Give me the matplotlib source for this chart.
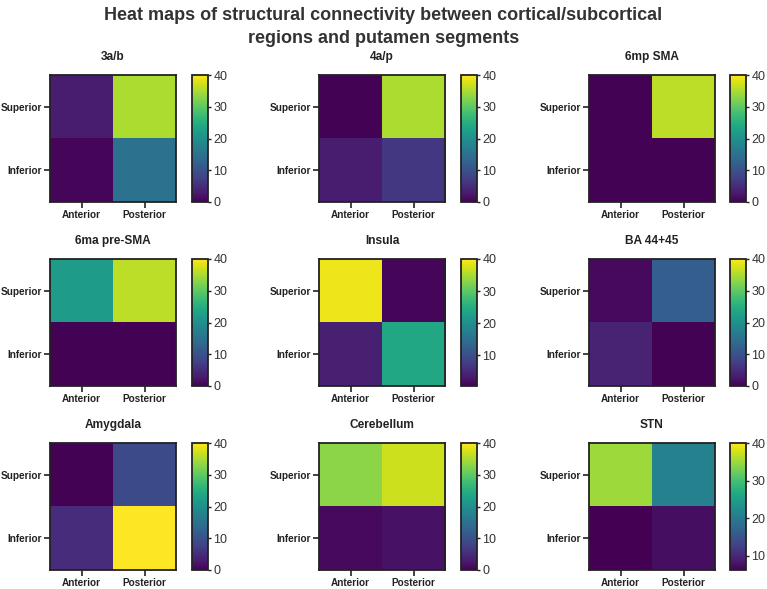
import numpy as np
import matplotlib
matplotlib.use("Agg")
import matplotlib.pyplot as plt
from matplotlib.colors import Normalize

plt.rcParams['font.family'] = ['Liberation Sans', 'DejaVu Sans']

title = "Heat maps of structural connectivity between cortical/subcortical\nregions and putamen segments"
regions = ["3a/b", "4a/p", "6mp SMA", "6ma pre-SMA", "Insula", "BA 44+45",
           "Amygdala", "Cerebellum", "STN"]
rows = ["Superior", "Inferior"]
cols = ["Anterior", "Posterior"]

# values: [[Superior-Anterior, Superior-Posterior], [Inferior-Anterior, Inferior-Posterior]]
v_3ab = [[3, 35], [0.5, 15]]
v_4ap = [[0.3, 35], [3, 6.5]]
v_6mp = [[0.3, 36], [0.3, 0.3]]
v_6ma = [[22, 36], [0.3, 0.3]]
v_insula = [[39, 1], [4, 24]]
v_ba = [[1, 12], [4, 0.3]]
v_amyg = [[0.3, 9], [5, 40]]
v_cereb = [[33, 37], [1, 2]]
v_stn = [[35, 21], [6.3, 7.5]]
values = [v_3ab, v_4ap, v_6mp, v_6ma, v_insula, v_ba, v_amyg, v_cereb, v_stn]

cbar_min = [0, 0, 0, 0, 0.5, 0, 0, 0, 6.2]
cbar_max = [40, 40, 40, 40, 40, 40, 40, 40, 40]
cbar_ticks = [[0, 10, 20, 30, 40]] * 4 + [[10, 20, 30, 40]] + [[0, 10, 20, 30, 40]] * 3 + [[10, 20, 30, 40]]

W, H = 767, 589
fig = plt.figure(figsize=(W / 100, H / 100), dpi=100)
fig.text(0.5, 1 - 27 / H, title, ha='center', va='center', fontsize=13,
         fontweight='bold', color='#333333', linespacing=1.4)

hm_x = [50, 319, 589]
cb_x = [192, 461, 730]
row_y = [75, 259, 443]
hm_w, hm_h = 126, 127
cb_w = 16

for i, name in enumerate(regions):
    r, c = divmod(i, 3)
    x0, y0 = hm_x[c], row_y[r]
    ax = fig.add_axes([x0 / W, 1 - (y0 + hm_h) / H, hm_w / W, hm_h / H])
    norm = Normalize(vmin=cbar_min[i], vmax=cbar_max[i])
    im = ax.imshow(np.array(values[i]), cmap='viridis', norm=norm, aspect='auto')
    ax.set_xticks(range(len(cols)))
    ax.set_xticklabels(cols, fontweight='bold', fontsize=7.2, color='#222222')
    ax.set_yticks(range(len(rows)))
    ax.set_yticklabels(rows, fontweight='bold', fontsize=7.2, color='#222222')
    ax.tick_params(length=4, width=1.2, color='#222222', pad=2)
    ax.tick_params(axis='x', pad=2)
    for s in ax.spines.values():
        s.set_linewidth(1.3)
        s.set_color('#222222')
    ax.set_title(name, fontweight='bold', fontsize=8.6, pad=11, color='#222222')

    cax = fig.add_axes([cb_x[c] / W, 1 - (y0 + hm_h) / H, cb_w / W, hm_h / H])
    cb = fig.colorbar(im, cax=cax)
    cb.set_ticks(cbar_ticks[i])
    cb.ax.tick_params(labelsize=9, length=2.5, width=1, color='#222222', pad=1.5,
                      labelcolor='#333333')
    cb.outline.set_linewidth(1.3)
    cb.outline.set_edgecolor('#222222')

fig.savefig("out.png", dpi=100)
